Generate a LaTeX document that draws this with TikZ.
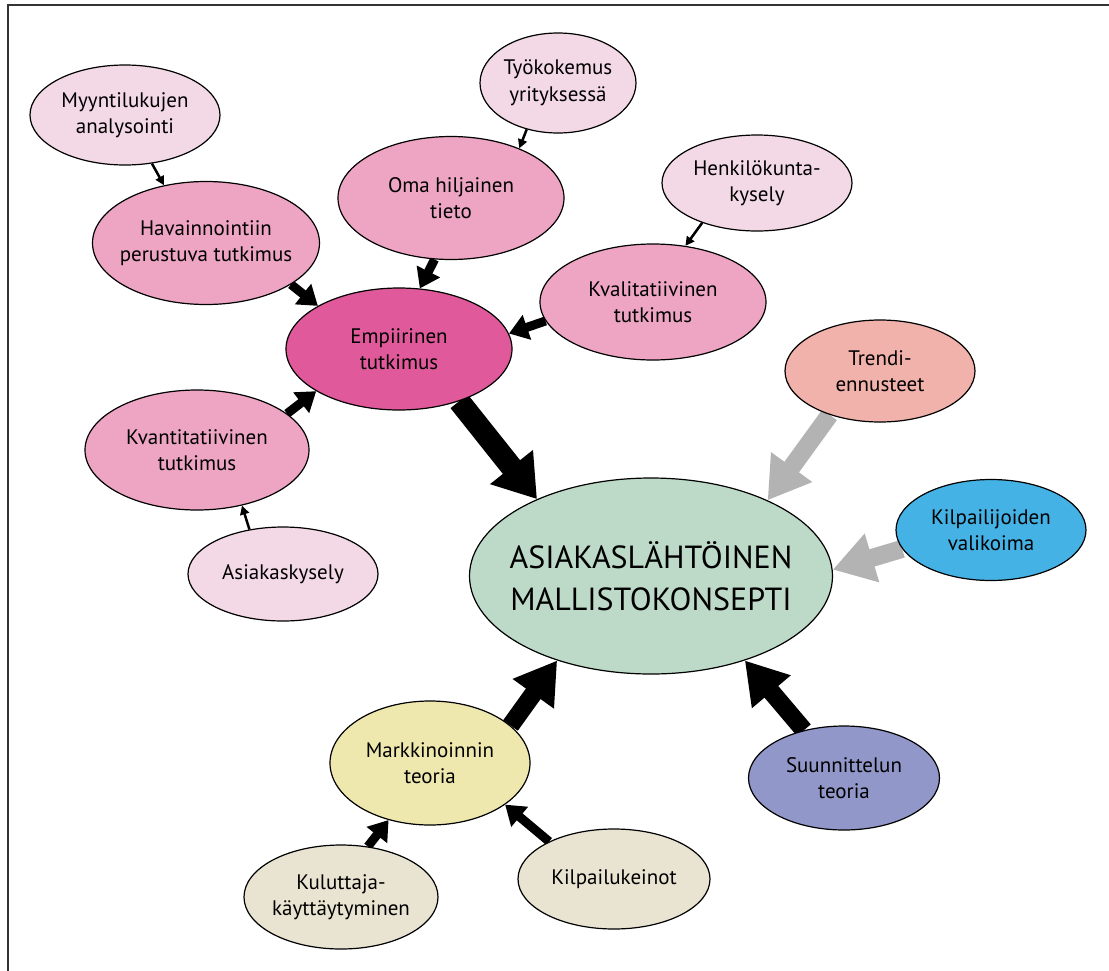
\documentclass[tikz,border=0pt]{standalone}
\usepackage{fontspec}
\setmainfont{PT Sans}
\usetikzlibrary{shapes.geometric,arrows.meta,backgrounds}
\definecolor{pinkL}{HTML}{F3D9E5}
\definecolor{pinkM}{HTML}{EDA5C3}
\definecolor{pinkD}{HTML}{E05A9B}
\definecolor{salmon}{HTML}{F2B2AC}
\definecolor{mint}{HTML}{BDD9C8}
\definecolor{skyb}{HTML}{45B2E5}
\definecolor{yell}{HTML}{EEE8AF}
\definecolor{lavd}{HTML}{9197C9}
\definecolor{beig}{HTML}{E9E4D2}
\definecolor{grayarr}{HTML}{B3B3B3}
\definecolor{frame}{HTML}{333333}
\tikzset{
  bub/.style={ellipse, draw=black, line width=1.2pt, inner sep=0pt},
  txt/.style={align=center, font=\fontsize{21}{26.5}\selectfont, inner sep=0pt},
  hugearr/.style={line width=22pt, -{Triangle[width=52pt,length=41pt]}},
  bigarr/.style={line width=18pt, -{Triangle[width=48pt,length=41pt]}},
  medarr/.style={line width=9pt, -{Triangle[width=25pt,length=19pt]}},
  smallarr/.style={line width=2.5pt, -{Triangle[width=9pt,length=9pt]}},
}
\newcommand\bubble[6]{%
  \node[bub, fill=#5, minimum width=#3, minimum height=#4] (#1) at #2 {};
  \node[txt] (#1-t) at (#1.center) {#6};}
\begin{document}
\begin{tikzpicture}[x=1pt,y=-1pt]
\useasboundingbox (0,0) rectangle (1109,970);
\draw[frame, line width=2pt] (8,972) -- (8,5) -- (1111,5);

\bubble{myy}{(125,115)}{190pt}{100pt}{pinkL}{Myyntilukujen\\analysointi}
\bubble{tyo}{(558,83)}{156pt}{100pt}{pinkL}{Työkokemus\\yrityksessä}
\bubble{oma}{(451,198)}{226pt}{123pt}{pinkM}{Oma hiljainen\\tieto}
\bubble{hen}{(757,183)}{190pt}{96pt}{pinkL}{Henkilökunta-\\kysely}
\bubble{hav}{(206,243)}{227pt}{123pt}{pinkM}{Havainnointiin\\perustuva tutkimus}
\bubble{kval}{(653,302)}{226pt}{116pt}{pinkM}{Kvalitatiivinen\\tutkimus}
\bubble{emp}{(399,349)}{226pt}{122pt}{pinkD}{Empiirinen\\tutkimus}
\bubble{tre}{(880,371)}{190pt}{102pt}{salmon}{Trendi-\\ennusteet}
\bubble{kvant}{(197,450)}{224pt}{120pt}{pinkM}{Kvantitatiivinen\\tutkimus}
\bubble{asi}{(283,574)}{190pt}{94pt}{pinkL}{Asiakaskysely}
\node[bub, fill=mint, minimum width=363pt, minimum height=196pt] (main) at (651,576) {};
\node[align=center, inner sep=0pt, font=\fontsize{32}{42}\selectfont] (main-t) at (main.center) {ASIAKASLÄHTÖINEN\\MALLISTOKONSEPTI};
\bubble{kil}{(991,530)}{190pt}{101pt}{skyb}{Kilpailijoiden\\valikoima}
\bubble{mar}{(430,763)}{200pt}{124pt}{yell}{Markkinoinnin\\teoria}
\bubble{suu}{(844,778)}{191pt}{104pt}{lavd}{Suunnittelun\\teoria}
\bubble{kul}{(341,897)}{194pt}{104pt}{beig}{Kuluttaja-\\käyttäytyminen}
\bubble{kik}{(614,879)}{192pt}{100pt}{beig}{Kilpailukeinot}

\begin{scope}[on background layer]
  \draw[hugearr] (emp.-41.9) -- (main.146);
  \draw[bigarr] (mar.25) -- (main.222.7);
  \draw[bigarr] (suu.130) -- (main.-42.5);
  \draw[bigarr, grayarr] (tre.221) -- (main.33.9);
  \draw[bigarr, grayarr] (kil.192) -- (main.2.5);
  \draw[medarr] (hav.-26) -- (emp.152.9);
  \draw[medarr] (oma.255.3) -- (emp.71);
  \draw[medarr] (kval.190) -- (emp.8.9);
  \draw[medarr] (kvant.22) -- (emp.207.1);
  \draw[medarr] (kul.62.5) -- (mar.234);
  \draw[medarr] (kik.150) -- (mar.-29);
  \draw[smallarr] (myy.-61.7) -- (hav.126);
  \draw[smallarr] (tyo.236.6) -- (oma.36.2);
  \draw[smallarr] (hen.216) -- (kval.60.8);
  \draw[smallarr] (asi.127) -- (kvant.-51.3);
\end{scope}
\end{tikzpicture}
\end{document}
